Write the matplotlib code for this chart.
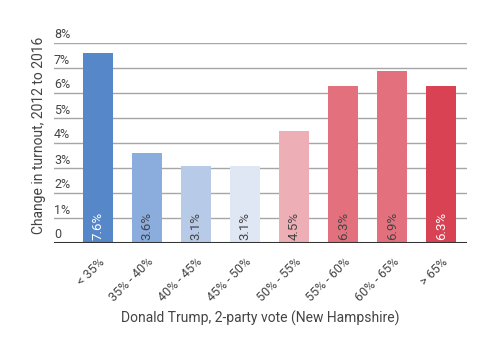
import matplotlib
matplotlib.use("Agg")
import matplotlib.pyplot as plt
import matplotlib.transforms as mtransforms

categories = ["< 35%", "35% - 40%", "40% - 45%", "45% - 50%",
              "50% - 55%", "55% - 60%", "60% - 65%", "> 65%"]
values = [7.6, 3.6, 3.1, 3.1, 4.5, 6.3, 6.9, 6.3]
labels = ["7.6%", "3.6%", "3.1%", "3.1%", "4.5%", "6.3%", "6.9%", "6.3%"]
colors = ["#5687c8", "#8badde", "#b7cbe9", "#dfe7f5",
          "#edaeb5", "#e2717d", "#e2717d", "#d94253"]
label_colors = ["white", "#444444", "#444444", "#444444",
                "#444444", "#444444", "#444444", "white"]
yticks = [0, 1, 2, 3, 4, 5, 6, 7, 8]
ytick_labels = ["0", "1%", "2%", "3%", "4%", "5%", "6%", "7%", "8%"]

plt.rcParams['font.family'] = ['Roboto', 'DejaVu Sans']

fig = plt.figure(figsize=(4.95, 3.44), dpi=100)
ax = fig.add_axes([54/495, 101/344, 413/495, 200/344])

x = list(range(len(categories)))
ax.bar(x, values, width=0.61, color=colors, zorder=3)

ax.set_ylim(0, 8)
ax.set_xlim(-0.89, 7.52)
for s in ax.spines.values():
    s.set_visible(False)

for t in yticks[1:]:
    ax.axhline(t, color="#a6a6a6", lw=1, zorder=1)
ax.axhline(0, color="#333333", lw=2.2, zorder=4)

ax.set_yticks([])
trans = mtransforms.blended_transform_factory(ax.transAxes, ax.transData)
for t, lab in zip(yticks, ytick_labels):
    ax.text(0.0, t + 0.18, lab, transform=trans, ha="left", va="baseline",
            fontsize=9, color="#444444")

ax.set_xticks(x)
ax.set_xticklabels(categories, rotation=45, ha="right", va="top",
                   rotation_mode="anchor", fontsize=9, color="#444444")
ax.tick_params(axis="x", length=0, pad=9)

for xi, lab, c in zip(x, labels, label_colors):
    ax.text(xi, 0.12, lab, rotation=90, ha="center", va="bottom",
            fontsize=9.5, color=c, zorder=5)

fig.text(39/495, 1 - 135/344, "Change in turnout, 2012 to 2016", rotation=90,
         ha="center", va="center", fontsize=10, color="#444444")
fig.text(260/495, 1 - 318/344, "Donald Trump, 2-party vote (New Hampshire)",
         ha="center", va="center", fontsize=10, color="#444444")

fig.savefig("out.png", dpi=100)
